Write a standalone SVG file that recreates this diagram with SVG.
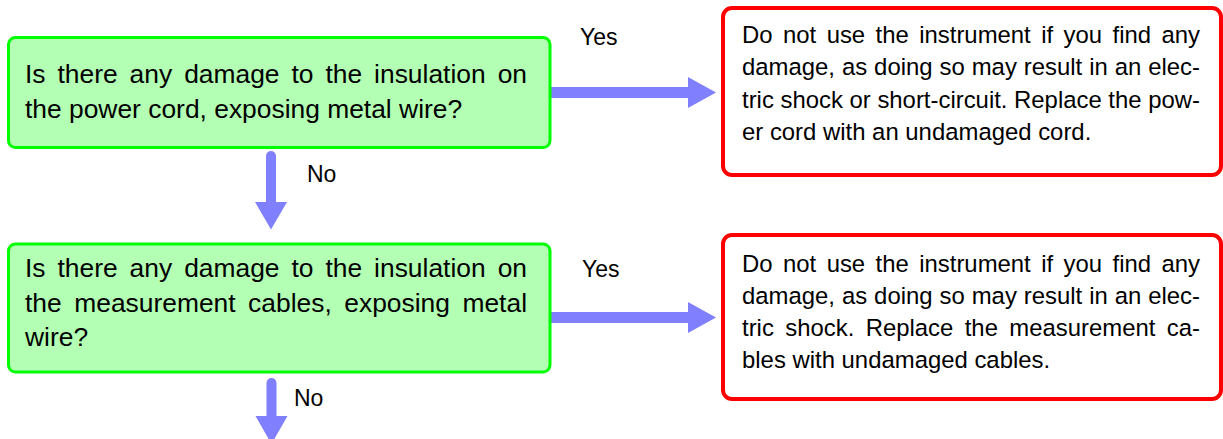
<svg xmlns="http://www.w3.org/2000/svg" width="1223" height="439" viewBox="0 0 1223 439">
<style>
  text { font-family: "Liberation Sans", Arial, sans-serif; fill: #000; }
  .q { font-size: 26.4px; }
  .a { font-size: 23.9px; }
  .lbl { font-size: 23px; }
  .qbox { fill: #b3ffb3; stroke: #00ff00; stroke-width: 3; }
  .abox { fill: #ffffff; stroke: #ff0000; stroke-width: 4; }
  .shaft { stroke: #8080ff; fill: none; }
  .head { fill: #8080ff; }
</style>
<rect width="1223" height="439" fill="#ffffff"/>
<g id="connectors">
  <g id="c1-yes">
    <line class="shaft" x1="548" y1="92.5" x2="690" y2="92.5" stroke-width="11"/>
    <polygon class="head" points="688,77 716,92.5 688,108"/>
    <text class="lbl" x="580" y="45">Yes</text>
  </g>
  <g id="c1-no">
    <line class="shaft" x1="271" y1="156" x2="271" y2="204" stroke-width="10" stroke-linecap="round"/>
    <polygon class="head" points="255,202 287,202 271,229.5"/>
    <text class="lbl" x="307" y="182">No</text>
  </g>
  <g id="c2-yes">
    <line class="shaft" x1="548" y1="317.5" x2="690" y2="317.5" stroke-width="11"/>
    <polygon class="head" points="688,302 716,317.5 688,333"/>
    <text class="lbl" x="582" y="277">Yes</text>
  </g>
  <g id="c2-no">
    <line class="shaft" x1="271.5" y1="383" x2="271.5" y2="418" stroke-width="10" stroke-linecap="round"/>
    <polygon class="head" points="255.5,416 287.5,416 271.5,444"/>
    <text class="lbl" x="294" y="406">No</text>
  </g>
</g>
<g id="q1">
  <rect class="qbox" x="8.5" y="37.5" width="541.5" height="110" rx="7"/>
  <text class="q" x="25" y="83" word-spacing="4.6" textLength="502" lengthAdjust="spacing">Is there any damage to the insulation on</text>
  <text class="q" x="25" y="117.5">the power cord, exposing metal wire?</text>
</g>
<g id="a1">
  <rect class="abox" x="723" y="8" width="498" height="167" rx="9"/>
  <text class="a" x="742" y="42.5" word-spacing="3.8" textLength="458" lengthAdjust="spacing">Do not use the instrument if you find any</text>
  <text class="a" x="742" y="75" word-spacing="0.3" textLength="458" lengthAdjust="spacing">damage, as doing so may result in an elec-</text>
  <text class="a" x="742" y="107.5" textLength="458" lengthAdjust="spacing">tric shock or short-circuit. Replace the pow-</text>
  <text class="a" x="742" y="140">er cord with an undamaged cord.</text>
</g>
<g id="q2">
  <rect class="qbox" x="8.5" y="244" width="541.5" height="128" rx="7"/>
  <text class="q" x="25" y="277" word-spacing="4.6" textLength="502" lengthAdjust="spacing">Is there any damage to the insulation on</text>
  <text class="q" x="25" y="311.5" word-spacing="5.2" textLength="502" lengthAdjust="spacing">the measurement cables, exposing metal</text>
  <text class="q" x="25" y="346">wire?</text>
</g>
<g id="a2">
  <rect class="abox" x="723" y="235" width="498" height="164" rx="9"/>
  <text class="a" x="742" y="271.5" word-spacing="3.8" textLength="458" lengthAdjust="spacing">Do not use the instrument if you find any</text>
  <text class="a" x="742" y="303.8" word-spacing="0.3" textLength="458" lengthAdjust="spacing">damage, as doing so may result in an elec-</text>
  <text class="a" x="742" y="336" word-spacing="4.7" textLength="458" lengthAdjust="spacing">tric shock. Replace the measurement ca-</text>
  <text class="a" x="742" y="368">bles with undamaged cables.</text>
</g>
</svg>
